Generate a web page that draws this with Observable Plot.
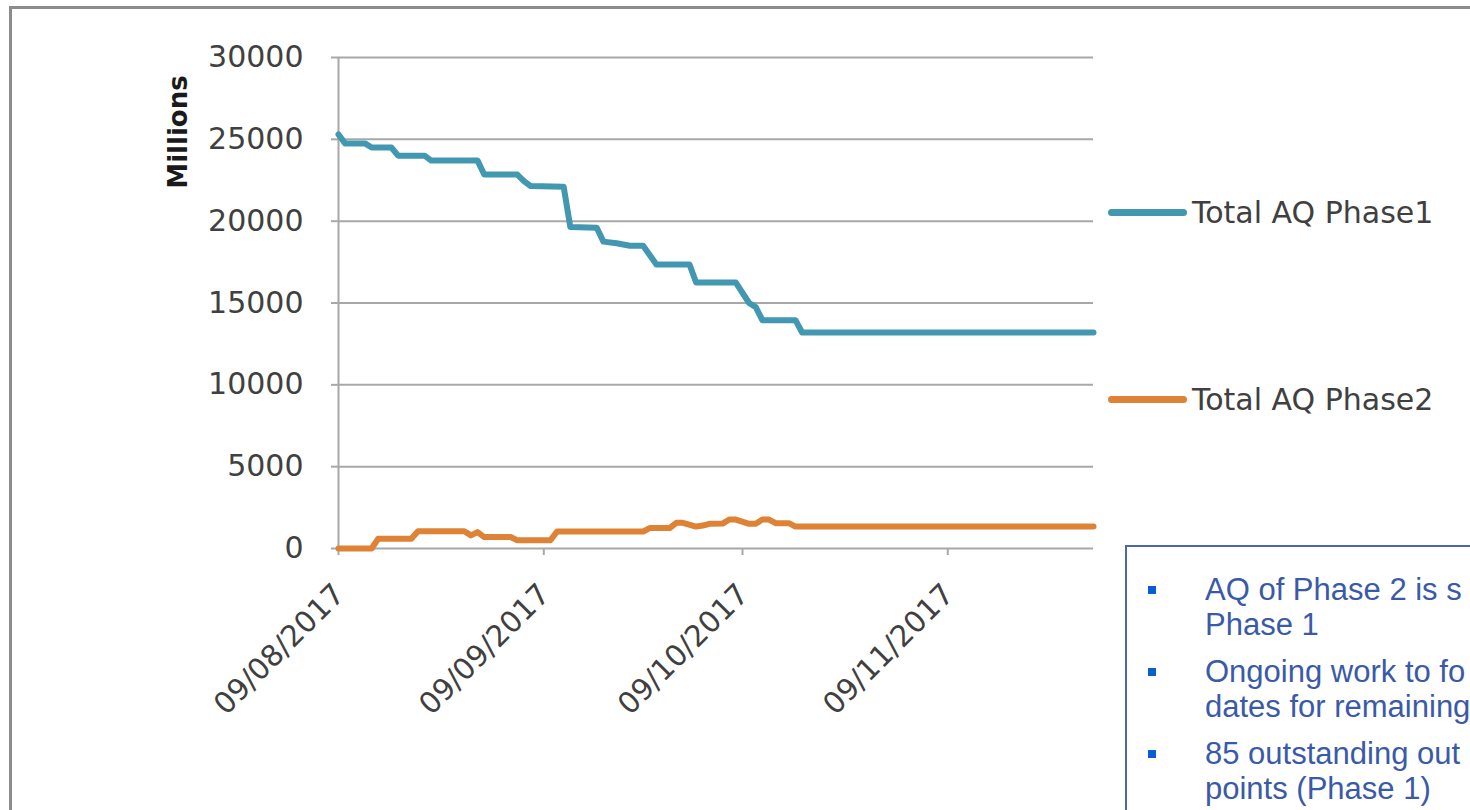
<!DOCTYPE html>
<html>
<head>
<meta charset="utf-8">
<script src="https://cdn.jsdelivr.net/npm/d3@7"></script>
<script src="https://cdn.jsdelivr.net/npm/@observablehq/plot@0.6"></script>
<style>
  html, body { margin: 0; padding: 0; background: #fff; }
  body { width: 1470px; height: 810px; overflow: hidden; position: relative; font-family: "DejaVu Sans", sans-serif; }
  #frame { position: absolute; left: 9px; top: 6px; width: 1500px; height: 900px; border-left: 3px solid #8c8c8c; border-top: 3px solid #8c8c8c; box-sizing: border-box; }
  #chart { position: absolute; left: 0; top: 0; }
  #ylabel { position: absolute; left: 178px; top: 132px; transform: translate(-50%, -50%) rotate(-90deg); font: bold 26px "DejaVu Sans", sans-serif; color: #1a1a1a; white-space: nowrap; }
  .legend-item { position: absolute; left: 1108px; height: 40px; display: flex; align-items: center; transform: translateY(-50%); }
  .legend-item .swatch { width: 79px; height: 7px; border-radius: 4px; }
  .legend-item .name { margin-left: 5px; font: 30px "DejaVu Sans", sans-serif; color: #404040; white-space: nowrap; }
  #notes { position: absolute; left: 1125px; top: 545px; width: 420px; height: 320px; border: 2px solid #4a67b0; box-sizing: border-box; background: #fff; overflow: hidden; }
  #notes ul { list-style: none; margin: 0; padding: 0; position: absolute; left: 0; top: 25px; }
  #notes li { position: relative; padding-left: 78px; font: 31px "Liberation Sans", Arial, sans-serif; line-height: 35px; color: #3a5aa8; margin-bottom: 12px; white-space: nowrap; }
  #notes li::before { content: ""; position: absolute; left: 21px; top: 14px; width: 8px; height: 8px; background: #0a5fd0; }
</style>
</head>
<body>
<div id="frame"></div>
<div id="chart"></div>
<div id="ylabel">Millions</div>
<div id="legend"></div>
<div id="notes"><ul id="notelist"></ul></div>
<script>
// Total AQ, in millions, at the dates where the series changes
const phase1Dates = ["2017-08-09","2017-08-10","2017-08-13","2017-08-14","2017-08-17","2017-08-18","2017-08-22","2017-08-23","2017-08-30","2017-08-31","2017-09-05","2017-09-06","2017-09-07","2017-09-12","2017-09-13","2017-09-17","2017-09-18","2017-09-20","2017-09-22","2017-09-24","2017-09-26","2017-10-01","2017-10-02","2017-10-08","2017-10-10","2017-10-11","2017-10-12","2017-10-17","2017-10-18","2017-12-01"];
const phase1Values = [25300,24750,24750,24500,24500,24000,24000,23700,23700,22850,22850,22450,22150,22100,19650,19600,18750,18650,18500,18500,17350,17350,16250,16250,15000,14750,13950,13950,13200,13200];

const phase2Dates = ["2017-08-09","2017-08-14","2017-08-15","2017-08-20","2017-08-21","2017-08-28","2017-08-29","2017-08-30","2017-08-31","2017-09-04","2017-09-05","2017-09-10","2017-09-11","2017-09-24","2017-09-25","2017-09-28","2017-09-29","2017-09-30","2017-10-02","2017-10-03","2017-10-04","2017-10-06","2017-10-07","2017-10-08","2017-10-10","2017-10-11","2017-10-12","2017-10-13","2017-10-14","2017-10-16","2017-10-17","2017-12-01"];
const phase2Values = [0,0,600,600,1050,1050,800,1000,700,700,500,500,1040,1040,1250,1250,1570,1570,1340,1400,1510,1520,1770,1770,1510,1510,1770,1770,1550,1550,1340,1340];

const seriesNames = ["Total AQ Phase1", "Total AQ Phase2"];
const seriesColors = ["#4298b0", "#de8236"];

const xDomain = ["2017-08-09", "2017-12-01"];
const xTickDates = ["2017-08-09", "2017-09-09", "2017-10-09", "2017-11-09"];
const yTicks = [0, 5000, 10000, 15000, 20000, 25000, 30000];

const notes = [
  ["AQ of Phase 2 is s", "Phase 1"],
  ["Ongoing work to fo", "dates for remaining"],
  ["85 outstanding out", "points (Phase 1)"]
];

const parse = d3.utcParse("%Y-%m-%d");
const rows = [
  ...phase1Dates.map((d, i) => ({date: parse(d), value: phase1Values[i], series: seriesNames[0]})),
  ...phase2Dates.map((d, i) => ({date: parse(d), value: phase2Values[i], series: seriesNames[1]}))
];

const grid = "#a8a8a8";
const ink = "#404040";
const dateFormat = d3.utcFormat("%d/%m/%Y");

const chart = Plot.plot({
  width: 1470,
  height: 810,
  marginLeft: 338,
  marginRight: 377,
  marginTop: 57,
  marginBottom: 262,
  style: {fontFamily: "DejaVu Sans, sans-serif", fontSize: "30px", background: "transparent", overflow: "visible"},
  x: {type: "utc", domain: xDomain.map(parse)},
  y: {domain: [0, 30000]},
  color: {domain: seriesNames, range: seriesColors},
  marks: [
    Plot.ruleY(yTicks, {stroke: grid, strokeWidth: 2}),
    Plot.axisY({ticks: yTicks, tickSize: 7, tickPadding: 28, tickFormat: d3.format("d"), stroke: grid, strokeWidth: 2, fill: ink, label: null}),
    Plot.ruleX([parse(xDomain[0])], {stroke: grid, strokeWidth: 2}),
    // tick marks below the baseline
    Plot.axisX({ticks: xTickDates.map(parse), tickSize: 7, tickFormat: () => "", stroke: grid, strokeWidth: 2, label: null}),
    // slanted date labels
    Plot.axisX({ticks: xTickDates.map(parse), tickSize: 0, tickRotate: -45, tickFormat: dateFormat, fill: ink, fontSize: 29.5, dx: 1, dy: 29, label: null}),
    Plot.line(rows, {x: "date", y: "value", z: "series", stroke: "series", strokeWidth: 6, strokeLinejoin: "round", strokeLinecap: "round"})
  ]
});
document.getElementById("chart").appendChild(chart);

// Legend to the right of the plot, one entry per series
const legendY = [212, 399];
const legend = document.getElementById("legend");
seriesNames.forEach((name, i) => {
  const item = document.createElement("div");
  item.className = "legend-item";
  item.style.top = legendY[i] + "px";
  item.innerHTML = `<div class="swatch" style="background:${seriesColors[i]}"></div><div class="name">${name}</div>`;
  legend.appendChild(item);
});

// Commentary box
const list = document.getElementById("notelist");
notes.forEach(lines => {
  const li = document.createElement("li");
  li.innerHTML = lines.join("<br>");
  list.appendChild(li);
});
</script>
</body>
</html>
